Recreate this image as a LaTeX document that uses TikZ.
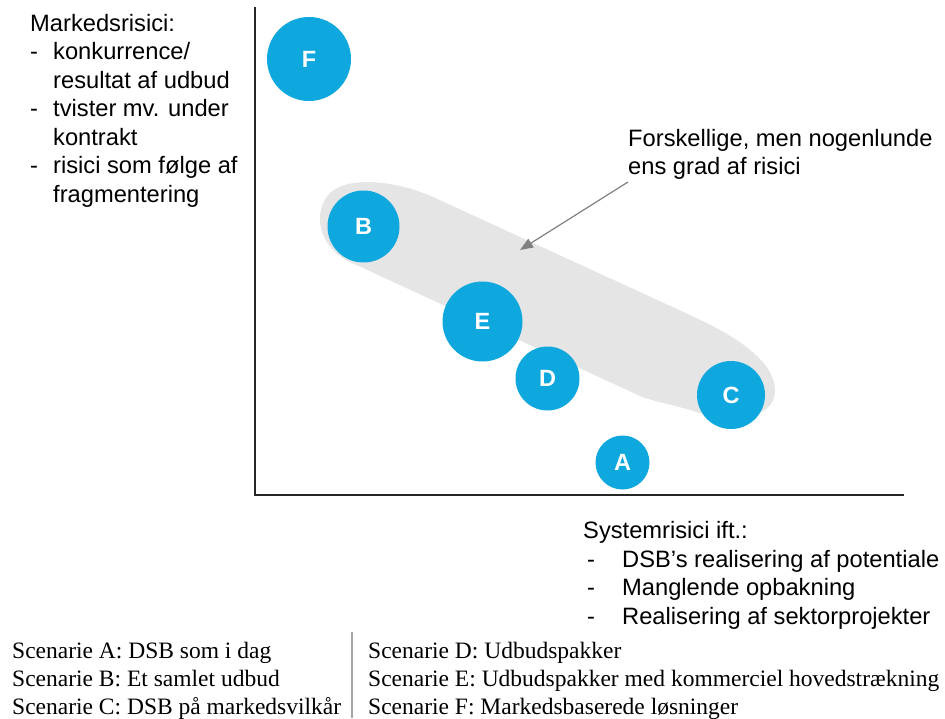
\documentclass[tikz,border=0pt]{standalone}
\usepackage{fontspec}
\setmainfont{Liberation Serif}
\newfontfamily\arial{Liberation Sans}
\usetikzlibrary{arrows.meta}
\definecolor{scenblue}{RGB}{14,167,222}
\definecolor{bandgrey}{RGB}{229,229,229}
\definecolor{notegrey}{RGB}{128,128,128}

\begin{document}
\begin{tikzpicture}[x=1pt,y=-1pt,>={Triangle[length=13pt,width=10pt]},
 scen/.style={circle,fill=scenblue,text=white,inner sep=0pt,font=\arial\bfseries\fontsize{23.5}{23.5}\selectfont},
 lbl/.style={anchor=base west,inner sep=0pt,font=\arial\fontsize{23.7}{28}\selectfont},
 leg/.style={anchor=base west,inner sep=0pt,font=\fontsize{23.5}{28}\selectfont}]
\useasboundingbox (0,0) rectangle (945,718);
% grey band round B, E and C
\fill[bandgrey] (433,197) -- (690,315) .. controls (745,340) and (776,365) .. (775,392)
  .. controls (774,418) and (735,425) .. (690,410) .. controls (670,404) and (655,402) .. (640,396)
  -- (350,262) .. controls (318,247) and (312,212) .. (330,193)
  .. controls (348,176) and (395,180) .. (433,197) -- cycle;
% axes
\coordinate (ytop) at (255,7);
\coordinate (orig) at (255,495);
\coordinate (xend) at (904,495);
\draw[line width=1.6pt,black!85] (ytop) -- (orig) -- (xend);
% scenarios
\foreach \s/\x/\y/\r in {F/309/59/42,B/363.5/226.5/36,E/482.5/321.5/40,D/547.5/378.5/32,C/731/395/34,A/622.5/462.5/27}
  \node[scen,minimum size={2*\r pt}] (\s) at (\x,\y) {\s};
% y axis text
\node[lbl] (mk-0) at (30,31) {Markedsrisici:};
\foreach \i/\y/\d/\t in {1/59.5/-/konkurrence\slash,2/88//resultat af udbud,3/116.5/-/tvister mv. under,4/145//kontrakt,5/173.5/-/risici som følge af,6/202//fragmentering}{
  \node[lbl] (mkd-\i) at (30,\y) {\d};
  \node[lbl] (mk-\i) at (53,\y) {\t};
}
% x axis text
\node[lbl] (sy-0) at (583,538) {Systemrisici ift.:};
\foreach \i/\y/\t in {1/567/DSB’s realisering af potentiale,2/595/Manglende opbakning,3/624/Realisering af sektorprojekter}{
  \node[lbl] (syd-\i) at (587,\y) {-};
  \node[lbl] (sy-\i) at (622,\y) {\t};
}
% note on the band
\node[lbl] (note-1) at (628,146) {Forskellige, men nogenlunde};
\node[lbl] (note-2) at (628,174) {ens grad af risici};
\coordinate (tail) at (628,182);
\coordinate (tip) at (520,250);
\draw[->,notegrey,line width=1.2pt] (tail) -- (tip);
% legend
\draw[gray!70,line width=1.2pt] (352,632) -- (352,718);
\foreach \i/\y/\a/\b in {1/658/A: DSB som i dag/D: Udbudspakker,2/686/B: Et samlet udbud/E: Udbudspakker med kommerciel hovedstrækning,3/714/C: DSB på markedsvilkår/F: Markedsbaserede løsninger}{
  \node[leg] (lg-l\i) at (12,\y) {Scenarie \a};
  \node[leg] (lg-r\i) at (368,\y) {Scenarie \b};
}
\end{tikzpicture}
\end{document}
